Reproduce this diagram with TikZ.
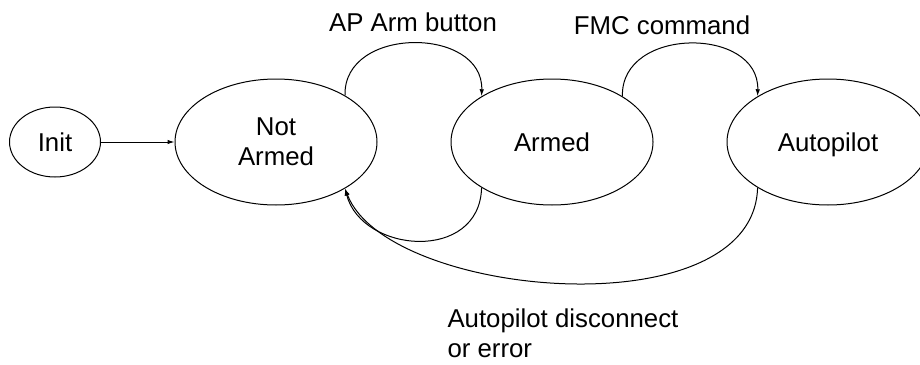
\documentclass[tikz,border=0pt]{standalone}
\usepackage{fontspec}
\setmainfont{Liberation Sans}
\usepackage{tikz}
\usetikzlibrary{arrows.meta,shapes.geometric}
\tikzset{fig/.style={line join=round,line width=1pt,>={Latex[length=7pt,width=4.5pt]}},
 state/.style={draw,ellipse,inner sep=0pt,minimum width=202pt,minimum height=126pt,align=center}}

\begin{document}
\begin{tikzpicture}[fig,x=1pt,y=-1pt,font=\fontsize{25.8}{30}\selectfont]
 \useasboundingbox(0,0)rectangle(920,364);
 \node[state,minimum width=91pt,minimum height=70pt](init)at(55,142){Init};
 \node[state](na)at(276,142){Not\\Armed};
 \node[state](ar)at(552,142){Armed};
 \node[state,text depth=0pt](ap)at(828,142){Autopilot};
 \draw[->](init)--(na);
 \draw[->](na.34)..controls +(-2,-70) and +(2,-70)..(ar.147);
 \draw[->](ar.213)..controls +(-2,75) and +(17,65)..(na.326);
 \draw[->](ar.33)..controls +(-2,-70) and +(2,-70)..(ap.147);
 \draw[->](ap.213)..controls +(-4,143) and +(42,110)..(na.326);
 \node(lbarm)at(413,22){AP Arm button};
 \node(lbfmc)at(662,25){FMC command};
 \node[anchor=north west,inner sep=0pt,align=left](lbdis)at(447,308){Autopilot disconnect\\or error};
\end{tikzpicture}
\end{document}
